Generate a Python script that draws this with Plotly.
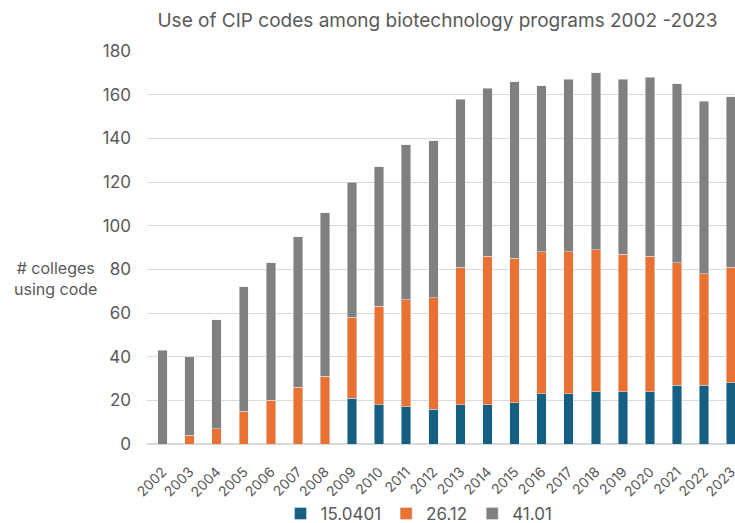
import plotly.graph_objects as go

years = [str(y) for y in range(2002, 2024)]
# segment values (stacked): blue = 15.0401, orange = 26.12, gray = 41.01
cip_15_0401 = [0, 0, 0, 0, 0, 0, 0, 21, 18, 17, 16, 18, 18, 19, 23, 23, 24, 24, 24, 27, 27, 28]
cip_26_12 = [0, 4, 7, 15, 20, 26, 31, 37, 45, 49, 51, 63, 68, 66, 65, 65, 65, 63, 62, 56, 51, 53]
cip_41_01 = [43, 36, 50, 57, 63, 69, 75, 62, 64, 71, 72, 77, 77, 81, 76, 79, 81, 80, 82, 82, 79, 78]

FONT = "Inter, Roboto, Arial, sans-serif"
TXT = "#595959"
L, R, T, B = 147, 0, 51, 79
PW = 735 - L - R
PH = 523 - T - B
STEP = 27.08
X0 = -(162.5 - L) / STEP

fig = go.Figure()
fig.add_bar(x=years, y=cip_15_0401, name="15.0401", marker_color="#156082")
fig.add_bar(x=years, y=cip_26_12, name="26.12", marker_color="#E97132")
fig.add_bar(x=years, y=cip_41_01, name="41.01", marker_color="#808080")

fig.update_layout(
    width=735, height=523,
    barmode="stack", bargap=0.65,
    paper_bgcolor="white", plot_bgcolor="white",
    margin=dict(l=L, r=R, t=T, b=B, autoexpand=False),
    font=dict(family=FONT, color=TXT, size=14),
    title=dict(text="Use of CIP codes among biotechnology programs 2002 -2023",
               x=437.5 / 735, xref="container", xanchor="center",
               y=1 - 20 / 523, yref="container", yanchor="middle",
               font=dict(size=19, color=TXT, family=FONT)),
    legend=dict(orientation="h", x=(419 - L) / PW, xanchor="center",
                y=(444 - 514) / PH, yanchor="middle",
                font=dict(size=17, color=TXT), traceorder="normal",
                itemwidth=30),
    showlegend=True,
)
fig.update_xaxes(type="category", range=[X0, X0 + PW / STEP], automargin=False,
                 tickangle=-45, showgrid=False, showline=False,
                 tickfont=dict(size=14, color=TXT), ticks="", ticklabelstandoff=16)
fig.update_yaxes(range=[0, 180], dtick=20, showgrid=True, gridcolor="#D9D9D9",
                 gridwidth=1, zeroline=True, zerolinecolor="#D9D9D9", automargin=False,
                 showline=False, ticks="", ticklabelstandoff=15,
                 tickfont=dict(size=17, color=TXT))
fig.add_annotation(text="# colleges<br>using code", xref="paper", yref="paper",
                   x=(55 - L) / PW, y=(444 - 278) / PH,
                   xanchor="center", yanchor="middle", showarrow=False,
                   align="center", font=dict(size=16, color=TXT, family=FONT))

fig.write_html("out.html", config={"displayModeBar": False},
               post_script="document.body.style.margin='0';document.body.style.overflow='hidden';")
